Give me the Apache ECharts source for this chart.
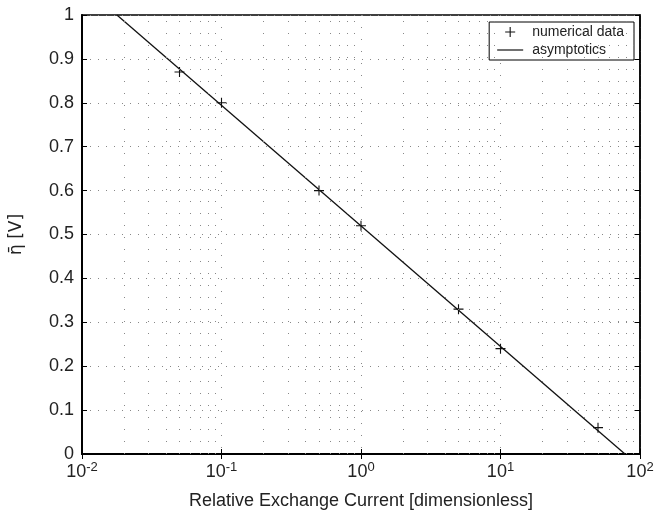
<!DOCTYPE html>
<html>
<head>
<meta charset="utf-8">
<script src="https://cdn.jsdelivr.net/npm/echarts@6/dist/echarts.min.js"></script>
<style>
  html, body { margin: 0; padding: 0; background: #fff; }
  #chart { width: 660px; height: 515px; }
</style>
</head>
<body>
<div id="chart"></div>
<script>
// data
var currents = [0.05, 0.1, 0.5, 1, 5, 10, 50];
var overpotential = [0.87, 0.80, 0.60, 0.52, 0.33, 0.24, 0.06];
// asymptotic line, end points where it leaves the box
var asymCurrent = [0.0178, 78];
var asymPotential = [1, 0];

// minor log grid positions (2..9 in each decade)
var decades = [0.01, 0.1, 1, 10];
var minorSteps = [2, 3, 4, 5, 6, 7, 8, 9];
var minorGrid = [];
decades.forEach(function (d) {
    minorSteps.forEach(function (m) { minorGrid.push(+(d * m).toPrecision(3)); });
});

var font = 'Liberation Sans, Arial, sans-serif';
var plus = 'path://M4.45,0H5.55V4.45H10V5.55H5.55V10H4.45V5.55H0V4.45H4.45Z';
var dash = 'path://M0,4.4H26V5.6H0Z';
var dottedH = { color: '#888', width: 1, type: [1, 7] };
var dottedV = { color: '#888', width: 1, type: [1, 11] };

var chart = echarts.init(document.getElementById('chart'));

chart.setOption({
    animation: false,
    textStyle: { fontFamily: font },
    grid: { left: 80, right: 20, top: 15, bottom: 58, show: true, borderColor: '#000', borderWidth: 1.5 },
    legend: {
        orient: 'vertical',
        right: 26,
        top: 22,
        backgroundColor: '#fff',
        borderColor: '#000',
        borderWidth: 1,
        borderRadius: 0,
        padding: [3, 10, 3, 8],
        itemGap: 4,
        itemWidth: 26,
        itemHeight: 10,
        textStyle: { fontSize: 14, color: '#222', fontFamily: font, padding: [0, 0, 0, 4] },
        data: [
            { name: 'numerical data', icon: plus },
            { name: 'asymptotics', icon: dash }
        ]
    },
    xAxis: [{
        type: 'log',
        logBase: 10,
        min: 0.01,
        max: 100,
        name: 'Relative Exchange Current [dimensionless]',
        nameLocation: 'middle',
        nameGap: 38,
        nameTextStyle: { fontSize: 18, color: '#222' },
        axisLine: { show: true, onZero: false, lineStyle: { color: '#000', width: 2 } },
        axisTick: { inside: true, length: 5, lineStyle: { color: '#000' } },
        axisLabel: {
            margin: 7,
            formatter: function (v) {
                return '{b|10}{s|' + Math.round(Math.log10(v)) + '}';
            },
            rich: {
                b: { fontSize: 18, color: '#222', fontFamily: font },
                s: { fontSize: 13, color: '#222', fontFamily: font, verticalAlign: 'top', padding: [0, 0, 10, 0] }
            }
        },
        splitLine: { show: true, lineStyle: dottedV }
    }, {
        type: 'log',
        logBase: 10,
        min: 0.01,
        max: 100,
        position: 'top',
        axisLine: { show: true, lineStyle: { color: '#000', width: 1.5 } },
        axisTick: { inside: true, length: 5, lineStyle: { color: '#000' } },
        axisLabel: { show: false },
        splitLine: { show: false }
    }],
    yAxis: [{
        type: 'value',
        min: 0,
        max: 1,
        interval: 0.1,
        name: 'η\u0304 [V]',
        nameLocation: 'middle',
        nameGap: 57,
        nameTextStyle: { fontSize: 17, color: '#222', fontFamily: 'DejaVu Sans' },
        axisLine: { show: true, lineStyle: { color: '#000', width: 2 } },
        axisTick: { show: true, inside: true, length: 5, lineStyle: { color: '#000' } },
        axisLabel: {
            fontSize: 18,
            color: '#222',
            margin: 8,
            formatter: function (v) { return +v.toFixed(1) + ''; }
        },
        splitLine: { show: true, lineStyle: dottedH }
    }, {
        type: 'value',
        min: 0,
        max: 1,
        interval: 0.1,
        position: 'right',
        axisLine: { show: true, lineStyle: { color: '#000', width: 1.5 } },
        axisTick: { show: true, inside: true, length: 5, lineStyle: { color: '#000' } },
        axisLabel: { show: false },
        splitLine: { show: false }
    }],
    series: [{
        name: 'asymptotics',
        type: 'line',
        data: asymCurrent.map(function (x, i) { return [x, asymPotential[i]]; }),
        showSymbol: false,
        symbol: 'none',
        lineStyle: { color: '#111', width: 1.3 },
        itemStyle: { color: '#111' },
        clip: true,
        markLine: {
            silent: true,
            symbol: 'none',
            label: { show: false },
            lineStyle: dottedV,
            data: minorGrid.map(function (v) { return { xAxis: v }; })
        },
        z: 3
    }, {
        name: 'numerical data',
        type: 'scatter',
        data: currents.map(function (x, i) { return [x, overpotential[i]]; }),
        symbol: plus,
        symbolSize: 10,
        itemStyle: { color: '#111', opacity: 1 },
        z: 4
    }]
});
</script>
</body>
</html>
